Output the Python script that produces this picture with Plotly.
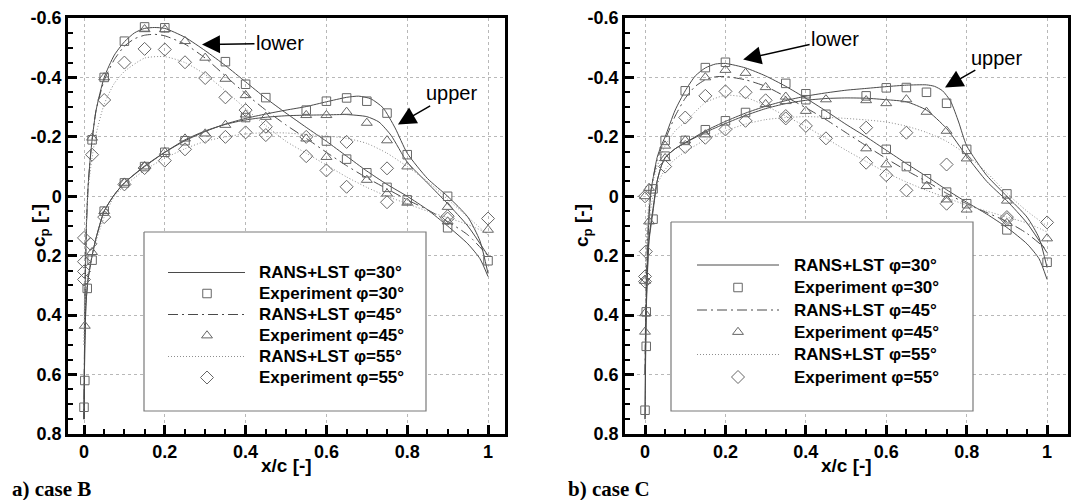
import plotly.graph_objects as go

W, H = 1073, 500

# ================= DATA : case B =================
# RANS+LST lines (lower surface / upper surface), x/c and cp
B30_lo_x = [0.0, 0.001, 0.003, 0.006, 0.01, 0.015, 0.02, 0.03, 0.05, 0.075, 0.10, 0.125, 0.15, 0.175, 0.20, 0.25, 0.30, 0.35, 0.40, 0.45, 0.50, 0.55, 0.60, 0.65, 0.70, 0.75, 0.80, 0.85, 0.90, 0.95, 0.98, 1.00]
B30_lo_cp = [0.75, 0.55, 0.30, 0.10, -0.03, -0.12, -0.19, -0.29, -0.40, -0.475, -0.52, -0.55, -0.565, -0.568, -0.565, -0.535, -0.49, -0.44, -0.385, -0.33, -0.28, -0.232, -0.185, -0.135, -0.085, -0.04, 0.0, 0.045, 0.10, 0.16, 0.21, 0.27]
B30_up_x = [0.0, 0.002, 0.005, 0.01, 0.02, 0.03, 0.05, 0.075, 0.10, 0.15, 0.20, 0.25, 0.30, 0.35, 0.40, 0.45, 0.50, 0.55, 0.60, 0.65, 0.68, 0.71, 0.74, 0.77, 0.80, 0.85, 0.90, 0.95, 0.98, 1.00]
B30_up_cp = [0.75, 0.50, 0.36, 0.28, 0.20, 0.14, 0.05, -0.005, -0.045, -0.102, -0.148, -0.187, -0.218, -0.243, -0.262, -0.277, -0.29, -0.302, -0.318, -0.333, -0.337, -0.328, -0.298, -0.23, -0.145, -0.06, 0.0, 0.07, 0.15, 0.26]
B45_lo_x = [0.0, 0.001, 0.003, 0.006, 0.01, 0.015, 0.02, 0.03, 0.05, 0.075, 0.10, 0.125, 0.15, 0.175, 0.20, 0.25, 0.30, 0.35, 0.40, 0.45, 0.50, 0.55, 0.60, 0.65, 0.70, 0.75, 0.80, 0.85, 0.90, 0.95, 1.00]
B45_lo_cp = [0.75, 0.55, 0.30, 0.10, -0.03, -0.12, -0.19, -0.29, -0.39, -0.46, -0.505, -0.53, -0.542, -0.545, -0.54, -0.512, -0.465, -0.405, -0.345, -0.29, -0.24, -0.195, -0.148, -0.103, -0.062, -0.025, 0.012, 0.045, 0.085, 0.13, 0.20]
B45_up_x = [0.0, 0.002, 0.005, 0.01, 0.02, 0.03, 0.05, 0.075, 0.10, 0.15, 0.20, 0.25, 0.30, 0.35, 0.40, 0.45, 0.50, 0.55, 0.60, 0.65, 0.70, 0.73, 0.76, 0.80, 0.85, 0.90, 0.95, 1.00]
B45_up_cp = [0.75, 0.50, 0.36, 0.28, 0.20, 0.14, 0.05, -0.005, -0.045, -0.10, -0.148, -0.19, -0.22, -0.242, -0.257, -0.266, -0.271, -0.273, -0.274, -0.275, -0.268, -0.25, -0.205, -0.115, -0.045, 0.025, 0.10, 0.20]
B55_lo_x = [0.0, 0.001, 0.003, 0.006, 0.01, 0.015, 0.02, 0.03, 0.05, 0.075, 0.10, 0.15, 0.20, 0.25, 0.30, 0.35, 0.40, 0.45, 0.50, 0.55, 0.60, 0.65, 0.70, 0.75, 0.80, 0.85, 0.90, 0.95, 1.00]
B55_lo_cp = [0.50, 0.35, 0.20, 0.08, -0.02, -0.08, -0.13, -0.21, -0.31, -0.38, -0.42, -0.465, -0.47, -0.45, -0.41, -0.355, -0.295, -0.238, -0.185, -0.145, -0.105, -0.065, -0.03, 0.0, 0.025, 0.05, 0.072, 0.095, 0.125]
B55_up_x = [0.0, 0.002, 0.005, 0.01, 0.02, 0.03, 0.05, 0.075, 0.10, 0.15, 0.20, 0.25, 0.30, 0.35, 0.40, 0.45, 0.50, 0.55, 0.60, 0.65, 0.70, 0.75, 0.80, 0.85, 0.90, 0.95, 1.00]
B55_up_cp = [0.50, 0.38, 0.32, 0.26, 0.20, 0.15, 0.07, 0.0, -0.035, -0.088, -0.128, -0.16, -0.185, -0.20, -0.21, -0.214, -0.213, -0.208, -0.203, -0.195, -0.178, -0.145, -0.10, -0.05, 0.01, 0.07, 0.13]

# Experiments case B
BE30_lo_x = [0.0, 0.002, 0.02, 0.05, 0.10, 0.15, 0.20, 0.35, 0.40, 0.45, 0.60, 0.65, 0.70, 0.75, 0.80, 0.90]
BE30_lo_cp = [0.71, 0.62, -0.19, -0.40, -0.522, -0.57, -0.567, -0.453, -0.377, -0.332, -0.186, -0.125, -0.079, -0.03, 0.012, 0.106]
BE30_up_x = [0.008, 0.02, 0.05, 0.10, 0.15, 0.20, 0.25, 0.40, 0.55, 0.60, 0.65, 0.70, 0.75, 0.80, 0.90, 1.00]
BE30_up_cp = [0.31, 0.215, 0.05, -0.045, -0.10, -0.148, -0.187, -0.265, -0.29, -0.32, -0.331, -0.32, -0.28, -0.14, 0.0, 0.217]
BE45_lo_x = [0.002, 0.02, 0.05, 0.15, 0.20, 0.25, 0.30, 0.35, 0.40, 0.55, 0.60, 0.70, 0.75, 0.80, 0.90]
BE45_lo_cp = [0.436, -0.197, -0.40, -0.562, -0.562, -0.522, -0.466, -0.395, -0.34, -0.194, -0.132, -0.055, -0.009, 0.022, 0.085]
BE45_up_x = [0.02, 0.05, 0.10, 0.15, 0.20, 0.25, 0.30, 0.35, 0.40, 0.45, 0.55, 0.60, 0.65, 0.70, 0.75, 0.80, 0.90, 1.00]
BE45_up_cp = [0.188, 0.05, -0.045, -0.10, -0.149, -0.194, -0.211, -0.24, -0.275, -0.267, -0.273, -0.273, -0.284, -0.247, -0.188, -0.10, 0.036, 0.113]
BE55_lo_x = [0.0, 0.0, 0.0, 0.02, 0.05, 0.10, 0.15, 0.20, 0.25, 0.30, 0.35, 0.40, 0.45, 0.55, 0.60, 0.65, 0.75, 0.90]
BE55_lo_cp = [0.28, 0.253, 0.14, -0.14, -0.324, -0.45, -0.496, -0.494, -0.451, -0.398, -0.333, -0.29, -0.234, -0.135, -0.087, -0.032, 0.02, 0.075]
BE55_up_x = [0.0, 0.016, 0.05, 0.10, 0.15, 0.20, 0.25, 0.30, 0.35, 0.40, 0.45, 0.55, 0.65, 0.75, 0.90, 1.00]
BE55_up_cp = [0.22, 0.16, 0.07, -0.04, -0.095, -0.12, -0.158, -0.20, -0.20, -0.215, -0.206, -0.20, -0.183, -0.094, 0.067, 0.075]

# ================= DATA : case C =================
C30_lo_x = [0.0, 0.001, 0.003, 0.006, 0.01, 0.015, 0.02, 0.03, 0.04, 0.05, 0.075, 0.10, 0.125, 0.15, 0.175, 0.20, 0.25, 0.30, 0.35, 0.40, 0.45, 0.50, 0.55, 0.60, 0.65, 0.70, 0.75, 0.80, 0.85, 0.90, 0.95, 0.98, 1.00]
C30_lo_cp = [0.75, 0.60, 0.40, 0.20, 0.07, -0.02, -0.06, -0.13, -0.17, -0.20, -0.29, -0.355, -0.405, -0.432, -0.445, -0.447, -0.432, -0.405, -0.37, -0.33, -0.287, -0.242, -0.20, -0.155, -0.11, -0.067, -0.022, 0.02, 0.06, 0.105, 0.16, 0.21, 0.28]
C30_up_x = [0.0, 0.002, 0.005, 0.01, 0.02, 0.03, 0.04, 0.05, 0.075, 0.10, 0.15, 0.20, 0.25, 0.30, 0.35, 0.40, 0.45, 0.50, 0.55, 0.60, 0.65, 0.70, 0.72, 0.74, 0.76, 0.78, 0.80, 0.85, 0.90, 0.95, 0.98, 1.00]
C30_up_cp = [0.75, 0.45, 0.30, 0.15, 0.05, -0.05, -0.10, -0.13, -0.16, -0.18, -0.22, -0.252, -0.28, -0.303, -0.322, -0.337, -0.348, -0.357, -0.363, -0.369, -0.374, -0.375, -0.37, -0.355, -0.32, -0.25, -0.17, -0.07, 0.0, 0.07, 0.14, 0.24]
C45_lo_x = [0.0, 0.001, 0.003, 0.006, 0.01, 0.015, 0.02, 0.03, 0.04, 0.05, 0.075, 0.10, 0.125, 0.15, 0.175, 0.20, 0.25, 0.30, 0.35, 0.40, 0.45, 0.50, 0.55, 0.60, 0.65, 0.70, 0.75, 0.80, 0.85, 0.90, 0.95, 1.00]
C45_lo_cp = [0.60, 0.45, 0.30, 0.15, 0.05, -0.02, -0.06, -0.12, -0.16, -0.19, -0.27, -0.33, -0.37, -0.392, -0.402, -0.403, -0.392, -0.37, -0.335, -0.298, -0.258, -0.214, -0.17, -0.127, -0.087, -0.05, -0.01, 0.025, 0.055, 0.085, 0.125, 0.18]
C45_up_x = [0.0, 0.002, 0.005, 0.01, 0.02, 0.03, 0.04, 0.05, 0.075, 0.10, 0.15, 0.20, 0.25, 0.30, 0.35, 0.40, 0.45, 0.50, 0.55, 0.60, 0.65, 0.70, 0.75, 0.80, 0.85, 0.90, 0.95, 1.00]
C45_up_cp = [0.60, 0.40, 0.28, 0.14, 0.04, -0.05, -0.10, -0.13, -0.16, -0.18, -0.215, -0.245, -0.272, -0.295, -0.312, -0.323, -0.329, -0.331, -0.33, -0.325, -0.318, -0.29, -0.228, -0.135, -0.05, 0.015, 0.09, 0.19]
C55_lo_x = [0.0, 0.002, 0.005, 0.01, 0.02, 0.03, 0.05, 0.075, 0.10, 0.15, 0.20, 0.25, 0.30, 0.35, 0.40, 0.45, 0.50, 0.55, 0.60, 0.65, 0.70, 0.75, 0.80, 0.85, 0.90, 0.95, 1.00]
C55_lo_cp = [0.30, 0.20, 0.10, 0.02, -0.05, -0.10, -0.17, -0.22, -0.25, -0.315, -0.34, -0.333, -0.305, -0.27, -0.235, -0.195, -0.155, -0.117, -0.08, -0.048, -0.02, 0.005, 0.03, 0.05, 0.07, 0.09, 0.12]
C55_up_x = [0.0, 0.002, 0.005, 0.01, 0.02, 0.03, 0.05, 0.075, 0.10, 0.15, 0.20, 0.25, 0.30, 0.35, 0.40, 0.45, 0.50, 0.55, 0.60, 0.65, 0.70, 0.75, 0.80, 0.85, 0.90, 0.95, 1.00]
C55_up_cp = [0.30, 0.22, 0.15, 0.08, 0.0, -0.04, -0.09, -0.125, -0.15, -0.19, -0.22, -0.243, -0.258, -0.265, -0.268, -0.266, -0.262, -0.257, -0.25, -0.236, -0.215, -0.185, -0.14, -0.08, -0.01, 0.05, 0.10]

# Experiments case C
CE30_lo_x = [0.0, 0.003, 0.02, 0.05, 0.10, 0.15, 0.20, 0.35, 0.40, 0.45, 0.60, 0.65, 0.70, 0.75, 0.80, 0.90]
CE30_lo_cp = [0.72, 0.505, -0.025, -0.188, -0.355, -0.433, -0.451, -0.38, -0.325, -0.276, -0.158, -0.10, -0.059, -0.014, 0.025, 0.113]
CE30_up_x = [0.003, 0.02, 0.05, 0.10, 0.15, 0.20, 0.25, 0.40, 0.55, 0.60, 0.65, 0.70, 0.75, 0.80, 0.90, 1.00]
CE30_up_cp = [0.389, 0.077, -0.135, -0.188, -0.224, -0.254, -0.282, -0.345, -0.338, -0.365, -0.366, -0.35, -0.313, -0.158, -0.008, 0.222]
CE45_lo_x = [0.0, 0.0, 0.01, 0.05, 0.15, 0.20, 0.25, 0.30, 0.35, 0.40, 0.55, 0.60, 0.70, 0.75, 0.80, 0.90]
CE45_lo_cp = [0.456, 0.285, -0.028, -0.17, -0.40, -0.425, -0.415, -0.367, -0.335, -0.287, -0.161, -0.107, -0.034, 0.011, 0.045, 0.09]
CE45_up_x = [0.0, 0.0, 0.01, 0.05, 0.10, 0.15, 0.30, 0.35, 0.45, 0.55, 0.60, 0.65, 0.70, 0.75, 0.80, 0.90, 1.00]
CE45_up_cp = [0.394, 0.0, 0.085, -0.128, -0.188, -0.208, -0.31, -0.32, -0.326, -0.323, -0.313, -0.326, -0.284, -0.22, -0.127, 0.015, 0.142]
CE55_lo_x = [0.0, 0.0, 0.10, 0.15, 0.20, 0.25, 0.30, 0.35, 0.40, 0.45, 0.55, 0.60, 0.65, 0.75, 0.90]
CE55_lo_cp = [0.287, 0.0, -0.265, -0.338, -0.353, -0.35, -0.323, -0.27, -0.237, -0.195, -0.113, -0.071, -0.02, 0.025, 0.07]
CE55_up_x = [0.0, 0.002, 0.05, 0.10, 0.15, 0.20, 0.25, 0.35, 0.55, 0.65, 0.75, 0.90, 1.00]
CE55_up_cp = [0.27, 0.186, -0.10, -0.166, -0.197, -0.225, -0.254, -0.262, -0.231, -0.214, -0.107, 0.077, 0.088]

# Tick labels / text
X_TICKS = [0, 0.2, 0.4, 0.6, 0.8, 1.0]
X_TICKTEXT = ["0", "0.2", "0.4", "0.6", "0.8", "1"]
Y_TICKS = [-0.6, -0.4, -0.2, 0, 0.2, 0.4, 0.6, 0.8]
Y_TICKTEXT = ["-0.6", "-0.4", "-0.2", "0", "0.2", "0.4", "0.6", "0.8"]
LEGEND_LABELS = ["RANS+LST φ=30°", "Experiment φ=30°", "RANS+LST φ=45°",
                 "Experiment φ=45°", "RANS+LST φ=55°", "Experiment φ=55°"]
PANEL_LABELS = ["a) case B", "b) case C"]

# ================= STYLE =================
DARK = '#4a4a4a'
LIGHT = '#8e8e8e'
MK = '#666666'
DASHDOT = '10px,4px,2px,4px'
DOT = '1px,2px'
SANS = 'Liberation Sans'
TICKFONT = dict(family=SANS, size=18, color='black', weight='bold')

STYLES = {
    'solid': dict(color=DARK, dash='solid'),
    'dashdot': dict(color=DARK, dash=DASHDOT),
    'dot': dict(color=LIGHT, dash=DOT),
}
SYMBOLS = {30: ('square-open', 8.5), 45: ('triangle-up-open', 9.5), 55: ('diamond-open', 10)}

fig = go.Figure()


def add_line(x, y, xa, ya, style):
    s = STYLES[style]
    fig.add_trace(go.Scatter(x=x, y=y, xaxis=xa, yaxis=ya, mode='lines',
                             line=dict(color=s['color'], width=1, dash=s['dash'],
                                       shape='spline', smoothing=0.6),
                             showlegend=False, hoverinfo='skip'))


def add_exp(x, y, xa, ya, phi):
    sym, sz = SYMBOLS[phi]
    fig.add_trace(go.Scatter(x=x, y=y, xaxis=xa, yaxis=ya, mode='markers',
                             marker=dict(symbol=sym, size=sz, color=MK, line=dict(color=MK, width=1)),
                             showlegend=False, hoverinfo='skip'))


cases = [
    ('x', 'y',
     [(B30_lo_x, B30_lo_cp, 'solid'), (B30_up_x, B30_up_cp, 'solid'),
      (B45_lo_x, B45_lo_cp, 'dashdot'), (B45_up_x, B45_up_cp, 'solid'),
      (B55_lo_x, B55_lo_cp, 'dot'), (B55_up_x, B55_up_cp, 'dot')],
     [(BE30_lo_x + BE30_up_x, BE30_lo_cp + BE30_up_cp, 30),
      (BE45_lo_x + BE45_up_x, BE45_lo_cp + BE45_up_cp, 45),
      (BE55_lo_x + BE55_up_x, BE55_lo_cp + BE55_up_cp, 55)]),
    ('x2', 'y2',
     [(C30_lo_x, C30_lo_cp, 'solid'), (C30_up_x, C30_up_cp, 'solid'),
      (C45_lo_x, C45_lo_cp, 'dashdot'), (C45_up_x, C45_up_cp, 'solid'),
      (C55_lo_x, C55_lo_cp, 'dot'), (C55_up_x, C55_up_cp, 'dot')],
     [(CE30_lo_x + CE30_up_x, CE30_lo_cp + CE30_up_cp, 30),
      (CE45_lo_x + CE45_up_x, CE45_lo_cp + CE45_up_cp, 45),
      (CE55_lo_x + CE55_up_x, CE55_lo_cp + CE55_up_cp, 55)]),
]

for xa, ya, lines, exps in cases:
    for x, y, st in lines:
        add_line(x, y, xa, ya, st)
    for x, y, phi in exps:
        add_exp(x, y, xa, ya, phi)

# ---------- manual legends on an overlay pixel axis ----------
LEG_BOXES = [(144, 232, 426, 411), (671, 222, 973, 411)]
LEG_ROWS = [[272.5, 293.5, 314.5, 335.5, 356.5, 377.5], [265, 287.5, 310, 332, 354.5, 377]]
LEG_LINE_X = [(168, 245), (697, 779)]
LEG_MK_X = [207, 738]
LEG_TEXT_X = [257, 792]
ENTRY_KIND = [('line', 'solid'), ('mk', 30), ('line', 'dashdot'), ('mk', 45), ('line', 'dot'), ('mk', 55)]

annotations = []
for i in range(2):
    bx0, by0, bx1, by1 = LEG_BOXES[i]
    fig.add_trace(go.Scatter(x=[bx0, bx1, bx1, bx0, bx0], y=[by0, by0, by1, by1, by0],
                             xaxis='x3', yaxis='y3', mode='lines', fill='toself',
                             fillcolor='white', line=dict(color='#7a7a7a', width=1.2),
                             showlegend=False, hoverinfo='skip'))
    for row, (kind, val), label in zip(LEG_ROWS[i], ENTRY_KIND, LEGEND_LABELS):
        if kind == 'line':
            s = STYLES[val]
            fig.add_trace(go.Scatter(x=list(LEG_LINE_X[i]), y=[row, row], xaxis='x3', yaxis='y3',
                                     mode='lines', line=dict(color=s['color'], width=1, dash=s['dash']),
                                     showlegend=False, hoverinfo='skip'))
        else:
            sym, sz = SYMBOLS[val]
            fig.add_trace(go.Scatter(x=[LEG_MK_X[i]], y=[row], xaxis='x3', yaxis='y3', mode='markers',
                                     marker=dict(symbol=sym, size=sz, color=MK, line=dict(color=MK, width=1)),
                                     showlegend=False, hoverinfo='skip'))
        annotations.append(dict(x=LEG_TEXT_X[i] / W, y=1 - row / H, xref='paper', yref='paper',
                                text=label, showarrow=False, xanchor='left', yanchor='middle',
                                font=dict(family=SANS, size=17, color='black', weight='bold')))

# ---------- axes ----------
YDOM = [1 - 434 / H, 1 - 18 / H]
XDOMS = [[68 / W, 505 / W], [625 / W, 1068 / W]]
XRANGES = [[-0.0396, 1.042], [-0.0498, 1.052]]


def xaxis(i, anchor):
    return dict(domain=XDOMS[i], range=XRANGES[i], anchor=anchor, automargin=False,
                tickmode='array', tickvals=X_TICKS, ticktext=X_TICKTEXT,
                ticks='inside', ticklen=9, tickwidth=2.5, tickcolor='black',
                minor=dict(tick0=0, dtick=0.05, ticks='inside', ticklen=5, tickwidth=1.5,
                           tickcolor='black', showgrid=False),
                showline=True, linewidth=2.5, linecolor='black', mirror=True,
                showgrid=True, gridcolor='#b8b8b8', gridwidth=1, griddash='dot',
                zeroline=False, tickfont=TICKFONT, fixedrange=True)


def yaxis(anchor):
    return dict(domain=YDOM, range=[0.8, -0.6], anchor=anchor, automargin=False,
                tickmode='array', tickvals=Y_TICKS, ticktext=Y_TICKTEXT,
                ticks='inside', ticklen=9, tickwidth=2.5, tickcolor='black',
                minor=dict(tick0=0, dtick=0.05, ticks='inside', ticklen=5, tickwidth=1.5,
                           tickcolor='black', showgrid=False),
                showline=True, linewidth=2.5, linecolor='black', mirror=True,
                showgrid=True, gridcolor='#b8b8b8', gridwidth=1, griddash='dot',
                zeroline=False, tickfont=TICKFONT, fixedrange=True)


# ---------- titles & labels ----------
TITLE_FONT = dict(family=SANS, size=19, color='black', weight='bold')
for cx, ycx, lbl_x, lbl in [(286, 40, 10, PANEL_LABELS[0]), (846, 583, 566, PANEL_LABELS[1])]:
    annotations.append(dict(x=cx / W, y=1 - 465 / H, xref='paper', yref='paper', text='x/c [-]',
                            showarrow=False, xanchor='center', yanchor='middle', font=TITLE_FONT))
    annotations.append(dict(x=ycx / W, y=1 - 226 / H, xref='paper', yref='paper',
                            text='c<sub>p</sub> [-]', textangle=-90,
                            showarrow=False, xanchor='center', yanchor='middle', font=TITLE_FONT))
    annotations.append(dict(x=lbl_x / W, y=1 - 489 / H, xref='paper', yref='paper', text=lbl,
                            showarrow=False, xanchor='left', yanchor='middle',
                            font=dict(family='Liberation Serif', size=21, color='black', weight='bold')))

# "lower" / "upper" labels with arrows: arrow tip in data coords, text offset in px
NOTE_FONT = dict(family=SANS, size=20, color='black')
NOTES = [
    ('x', 'y', 'lower', (0.292, -0.511), (78, -1)),
    ('x', 'y', 'upper', (0.777, -0.242), (54, -31)),
    ('x2', 'y2', 'lower', (0.244, -0.460), (92, -21)),
    ('x2', 'y2', 'upper', (0.746, -0.366), (52, -30)),
]
for xr, yr, txt, tip, off in NOTES:
    annotations.append(dict(x=tip[0], y=tip[1], xref=xr, yref=yr, text=txt, showarrow=True,
                            ax=off[0], ay=off[1], arrowhead=2, arrowsize=2.4, arrowwidth=1.5,
                            arrowcolor='black', standoff=0, startstandoff=0, font=NOTE_FONT))

fig.update_layout(
    width=W, height=H, margin=dict(l=0, r=0, t=0, b=0, pad=0), autosize=False,
    paper_bgcolor='white', plot_bgcolor='rgba(0,0,0,0)', showlegend=False,
    xaxis=xaxis(0, 'y'), yaxis=yaxis('x'),
    xaxis2=xaxis(1, 'y2'), yaxis2=yaxis('x2'),
    xaxis3=dict(domain=[0, 1], range=[0, W], anchor='y3', visible=False, fixedrange=True, automargin=False),
    yaxis3=dict(domain=[0, 1], range=[H, 0], anchor='x3', visible=False, fixedrange=True, automargin=False),
    annotations=annotations,
)

fig.write_html("out.html", config={'displayModeBar': False, 'responsive': False},
               post_script="document.documentElement.style.margin='0';document.body.style.margin='0';"
                           "document.body.style.overflow='hidden';")
